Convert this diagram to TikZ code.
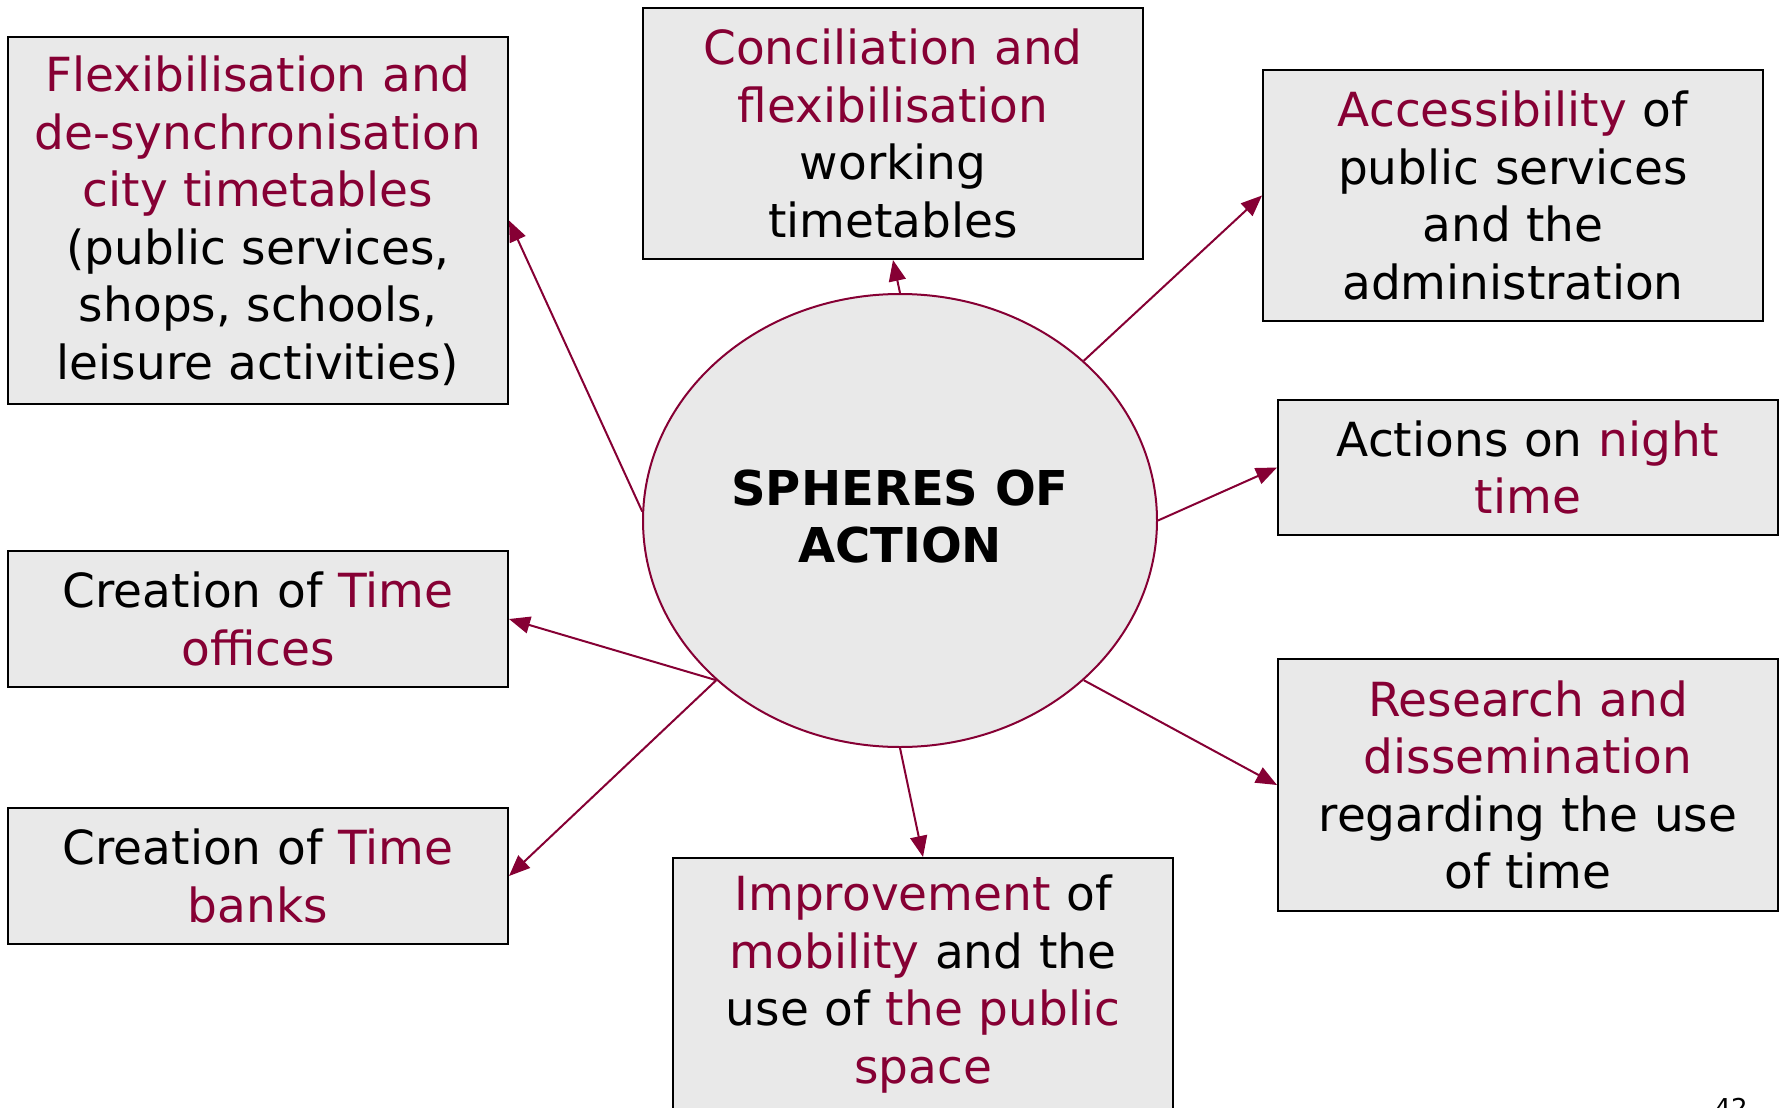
\documentclass[tikz,border=0pt]{standalone}
\usepackage{xcolor}
\usepackage{fontspec}
\setmainfont{DejaVu Sans}
\usepackage{tikz}
\usetikzlibrary{shapes, arrows.meta, calc, positioning}

\definecolor{wine}{RGB}{134,0,52}
\definecolor{boxgray}{RGB}{233,233,233}
\newcommand{\wine}[1]{\textcolor{wine}{#1}}

\begin{document}
\begin{tikzpicture}[x=1pt, y=-1pt, >={Triangle[length=21pt,width=17pt]}, thick]
    % Define styles locally
    \tikzstyle{area} = [rectangle, draw=black, line width=2pt, fill=boxgray, inner sep=0pt,
        minimum width=500pt, text width=492pt, align=center,
        font=\fontsize{47}{57.5}\selectfont]
    \tikzstyle{hub} = [ellipse, draw=wine, line width=2pt, fill=boxgray, inner sep=0pt,
        minimum width=514pt, minimum height=453pt, align=center,
        font=\fontsize{48}{57.5}\selectfont\bfseries]
    \tikzstyle{link} = [->, draw=wine, fill=wine, line width=2pt]

    \useasboundingbox (0,0) rectangle (1781,1108);

    % Centre
    \node[hub] (sph) at (900,520.5) {\raisebox{9pt}{SPHERES OF}\\\raisebox{9pt}{ACTION}};

    % Areas
    \node[area, minimum height=367pt] (flex) at (258,220.5)
        {\wine{Flexibilisation and}\\\wine{de-synchronisation}\\\wine{city timetables}\\(public services,\\shops, schools,\\leisure activities)};
    \node[area, minimum height=251pt] (conc) at (893,133.5)
        {\wine{Conciliation and}\\\wine{flexibilisation}\\working\\timetables};
    \node[area, minimum height=251pt] (access) at (1513,195.5)
        {\wine{Accessibility} of\\public services\\and the\\administration};
    \node[area, minimum height=135pt] (night) at (1528,467.5)
        {Actions on \wine{night}\\\wine{time}};
    \node[area, minimum height=136pt] (offices) at (258,619)
        {Creation of \wine{Time}\\\wine{offices}};
    \node[area, minimum height=136pt] (banks) at (258,876)
        {Creation of \wine{Time}\\\wine{banks}};
    \node[area, minimum height=252pt] (mob) at (923,984)
        {\wine{Improvement} of\\\wine{mobility} and the\\use of \wine{the public}\\\wine{space}};
    \node[area, minimum height=252pt] (research) at (1528,785)
        {\wine{Research and}\\\wine{dissemination}\\regarding the use\\of time};

    % Page number
    \node[anchor=north, inner sep=0pt, font=\fontsize{26}{30}\selectfont] (page) at (1731,1098) {42};

    % Links
    \draw[link] (sph.178) -- (flex.east);
    \draw[link] (sph.north) -- (conc.south);
    \draw[link] (sph.41) -- (access.west);
    \draw[link] (sph.east) -- (night.west);
    \draw[link] (sph.221) -- (offices.east);
    \draw[link] (sph.221) -- (banks.east);
    \draw[link] (sph.south) -- (mob.north);
    \draw[link] (sph.319) -- (research.west);

\end{tikzpicture}
\end{document}
